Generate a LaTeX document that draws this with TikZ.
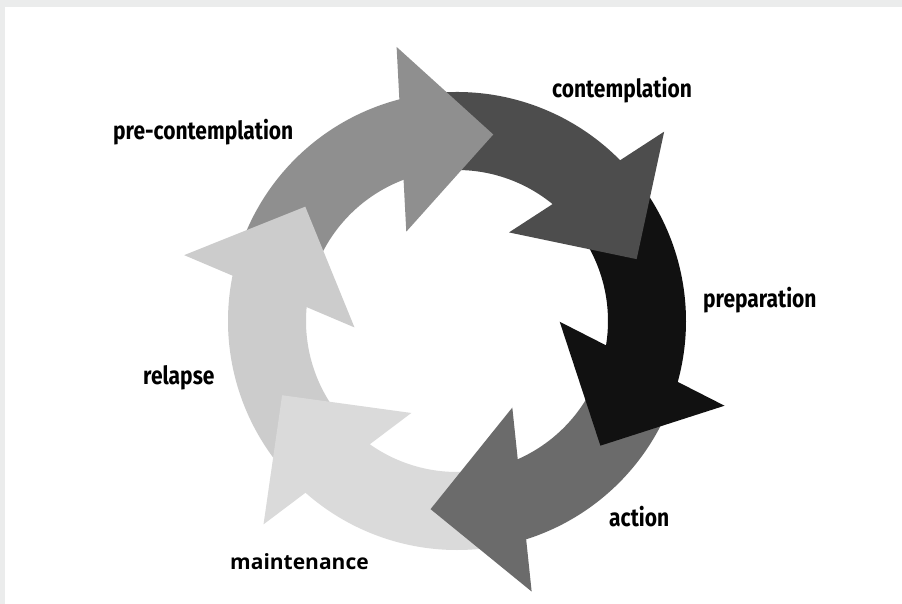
\documentclass[tikz,border=0pt]{standalone}
\usepackage{fontspec}
\usepackage{tikz}
\usetikzlibrary{calc}
\newfontfamily\stagefont[FakeStretch=0.84]{Fira Sans}
\newfontfamily\notefont{Open Sans}
\definecolor{framegray}{RGB}{235,236,236}
\definecolor{pregray}{RGB}{143,143,143}
\definecolor{contgray}{RGB}{77,77,77}
\definecolor{prepgray}{RGB}{17,17,17}
\definecolor{actgray}{RGB}{107,107,107}
\definecolor{maintgray}{RGB}{218,218,218}
\definecolor{relgray}{RGB}{204,204,204}

\begin{document}
\begin{tikzpicture}[
  x=1pt, y=1pt,
  stage/.style={anchor=base west, inner sep=0pt,
                font=\stagefont\bfseries\fontsize{25}{25}\selectfont},
  note/.style={anchor=base west, inner sep=0pt,
               font=\notefont\bfseries\fontsize{21}{21}\selectfont}
]
  % frame
  \fill[framegray] (-457,-283) rectangle (445,321);
  \fill[white] (-452,-283) rectangle (445,314);

  % ring pieces first, the heads go on top of them
  \foreach \b/\col in {107/pregray,47/contgray,-13/prepgray,-70/actgray,-129/maintgray,171/relgray}
  {
    \pgfmathsetmacro{\s}{\b+50}
    \pgfmathsetmacro{\e}{\b-8}
    \fill[\col] (\s:151pt) arc[start angle=\s, end angle=\e, radius=151pt]
      -- (\e:229pt) arc[start angle=\e, end angle=\s, radius=229pt] -- cycle;
  }
  \foreach \b/\col in {107/pregray,47/contgray,-13/prepgray,-70/actgray,-129/maintgray,171/relgray}
  {
    \coordinate (base) at (\b:190pt);
    \coordinate (tip) at (\b-28:190pt);
    \fill[\col] ($(base)!92.5pt!90:(tip)$) -- (tip) -- ($(base)!92.5pt!-90:(tip)$) -- cycle;
  }

  % stage names
  \node[stage] (pre)   at (-344,181) {pre-contemplation};
  \node[stage] (cont)  at (95,223)   {contemplation};
  \node[stage] (prep)  at (246,13)   {preparation};
  \node[stage] (act)   at (152,-206) {action};
  \node[stage] (rel)   at (-314,-64) {relapse};
  \node[note]  (maint) at (-227,-248) {maintenance};
\end{tikzpicture}
\end{document}
